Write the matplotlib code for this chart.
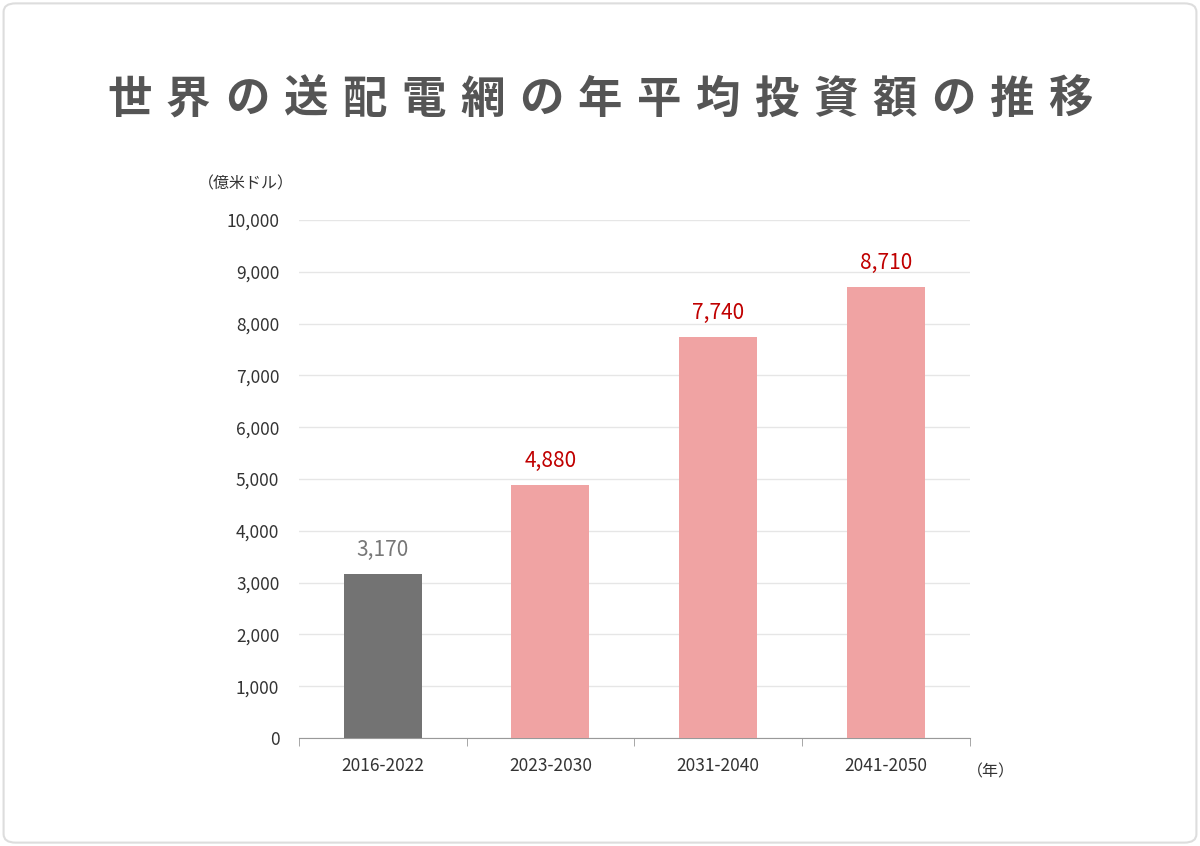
import matplotlib
matplotlib.use("Agg")
import matplotlib.pyplot as plt
from matplotlib.patches import FancyBboxPatch

plt.rcParams["font.family"] = ["Noto Sans CJK JP"]

title = "世界の送配電網の年平均投資額の推移"
categories = ["2016-2022", "2023-2030", "2031-2040", "2041-2050"]
values = [3170, 4880, 7740, 8710]
bar_colors = ["#737373", "#f0a3a3", "#f0a3a3", "#f0a3a3"]
label_colors = ["#777777", "#c00000", "#c00000", "#c00000"]
yticks = list(range(0, 10001, 1000))

fig = plt.figure(figsize=(12, 8.46), dpi=100)
border = FancyBboxPatch((0.003, 0.004), 0.994, 0.992, boxstyle="round,pad=0,rounding_size=0.01",
                        transform=fig.transFigure, fc="white", ec="#dddddd", lw=1.5, zorder=-10)
fig.patches.append(border)

# title with wide letter spacing
n = len(title)
x0, x1 = 100 / 1200, 1100 / 1200
step = (x1 - x0) / n
for i, ch in enumerate(title):
    fig.text(x0 + step * (i + 0.5), 0.882, ch, ha="center", va="center",
             fontsize=32, fontweight="bold", color="#555555")

ax = fig.add_axes([0.249, 0.1277, 0.559, 0.6123])
ax.patch.set_alpha(0)
x = list(range(len(categories)))
ax.bar(x, values, width=0.465, color=bar_colors, zorder=3)
for xi, v, c in zip(x, values, label_colors):
    ax.text(xi, v + 250, f"{v:,}", ha="center", va="bottom", fontsize=15, color=c)
ax.set_xlim(-0.5, 3.5)
ax.set_ylim(0, 10000)
ax.set_yticks(yticks)
ax.set_yticklabels([f"{t:,}" for t in yticks], fontsize=12.5, color="#333333")
ax.grid(axis="y", color="#e6e6e6", lw=1, zorder=0)
ax.tick_params(axis="y", length=0, pad=14)
ax.set_xticks(x)
ax.set_xticklabels(categories, fontsize=12.5, color="#333333")
ax.tick_params(axis="x", length=0, pad=14)
ax.set_xticks([-0.5, 0.5, 1.5, 2.5, 3.5], minor=True)
ax.tick_params(axis="x", which="minor", length=6, color="#999999")
for s in ["top", "right", "left"]:
    ax.spines[s].set_visible(False)
ax.spines["bottom"].set_color("#999999")
fig.text(0.205, 0.783, "（億米ドル）", ha="center", va="center", fontsize=11.5, color="#333333")
fig.text(0.826, 0.088, "（年）", ha="center", va="center", fontsize=11.5, color="#333333")
fig.savefig("out.png", dpi=100)
